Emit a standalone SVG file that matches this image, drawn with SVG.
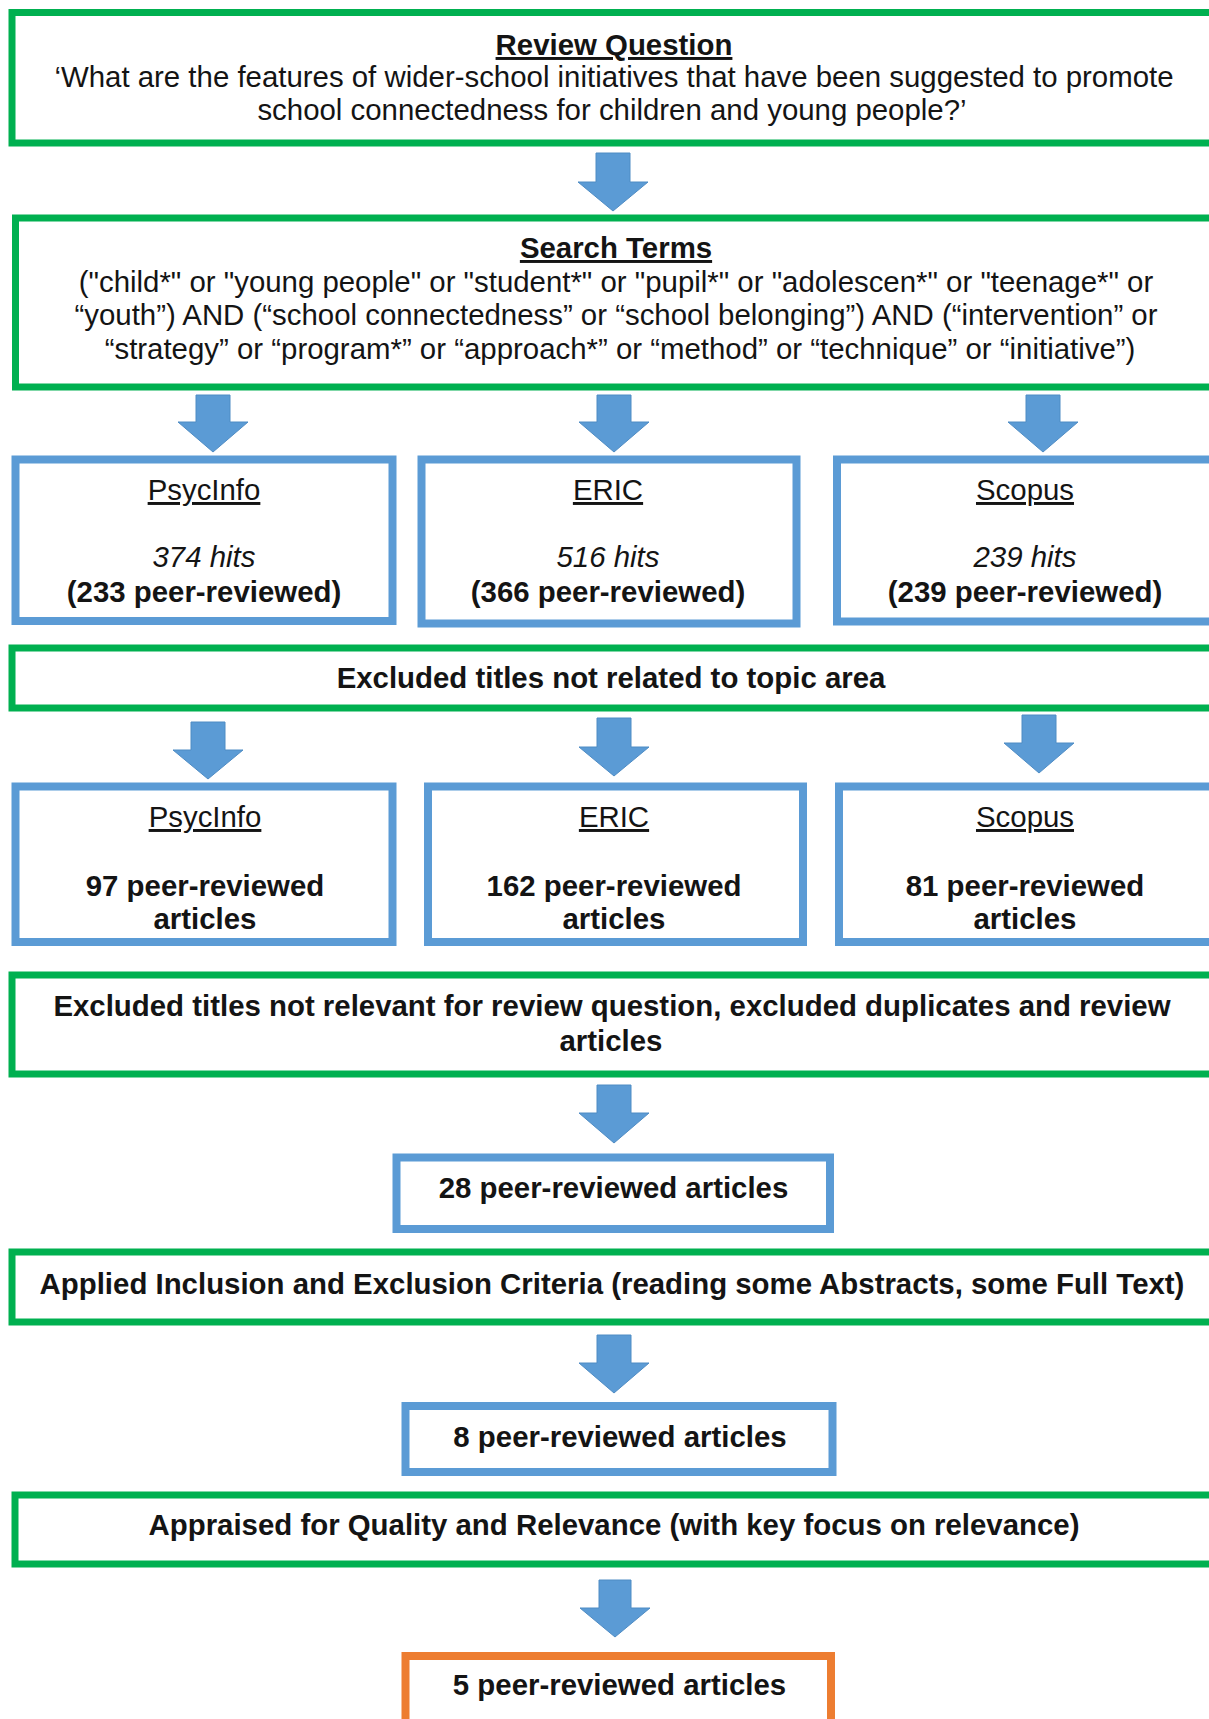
<svg xmlns="http://www.w3.org/2000/svg" width="1209" height="1719" viewBox="0 0 1209 1719">
<defs>
<style>
.g{fill:#fff;stroke:#00B050;stroke-width:7}
.b{fill:#fff;stroke:#5B9BD5;stroke-width:8}
.o{fill:#fff;stroke:#ED7D31;stroke-width:8}
.arr{fill:#5B9BD5;stroke:#4F8CC4;stroke-width:1}
text{font-family:"Liberation Sans",Arial,sans-serif;font-size:29.4px;fill:#141414;text-anchor:middle}
.bd{font-weight:bold}
.u{text-decoration:underline}
.it{font-style:italic}
</style>
</defs>
<rect width="1209" height="1719" fill="#fff"/>
<g id="connectors">
<path class="arr" d="M596,153H630V182H648L613,211L578,182H596Z"/>
<path class="arr" d="M196,395H230V422H248L213,452L178,422H196Z"/>
<path class="arr" d="M597,395H631V422H649L614,452L579,422H597Z"/>
<path class="arr" d="M1026,395H1060V422H1078L1043,452L1008,422H1026Z"/>
<path class="arr" d="M191,722H225V750H243L208,779L173,750H191Z"/>
<path class="arr" d="M597,718H631V747H649L614,776L579,747H597Z"/>
<path class="arr" d="M1022,715H1056V743H1074L1039,773L1004,743H1022Z"/>
<path class="arr" d="M597,1085H631V1113H649L614,1143L579,1113H597Z"/>
<path class="arr" d="M597,1335H631V1363H649L614,1393L579,1363H597Z"/>
<path class="arr" d="M599,1580H631V1608H650L615,1637L580,1608H599Z"/>
</g>
<g id="review-question">
<rect class="g" x="12" y="12.5" width="1210" height="130.5"/>
<text x="614" y="55" class="bd u">Review Question</text>
<text x="614" y="87">‘What are the features of wider-school initiatives that  have been suggested to promote</text>
<text x="612" y="120">school connectedness for children and young people?’</text>
</g>
<g id="search-terms">
<rect class="g" x="15.5" y="218" width="1210" height="169"/>
<text x="616" y="258" class="bd u">Search Terms</text>
<text x="616" y="291.5">("child*" or "young people" or "student*" or "pupil*" or "adolescen*" or "teenage*" or</text>
<text x="616" y="325">“youth”) AND (“school connectedness” or “school belonging”) AND (“intervention” or</text>
<text x="620" y="358.5">“strategy” or “program*” or “approach*” or “method” or “technique” or “initiative”)</text>
</g>
<g id="psycinfo-1">
<rect class="b" x="15.5" y="459.5" width="377" height="161.5"/>
<text x="204" y="500" class="u">PsycInfo</text>
<text x="204" y="567" class="it">374 hits</text>
<text x="204" y="602" class="bd">(233 peer-reviewed)</text>
</g>
<g id="eric-1">
<rect class="b" x="421.5" y="459.5" width="375" height="164"/>
<text x="608" y="500" class="u">ERIC</text>
<text x="608" y="567" class="it">516 hits</text>
<text x="608" y="602" class="bd">(366 peer-reviewed)</text>
</g>
<g id="scopus-1">
<rect class="b" x="837" y="459.5" width="380" height="162"/>
<text x="1025" y="500" class="u">Scopus</text>
<text x="1025" y="567" class="it">239 hits</text>
<text x="1025" y="602" class="bd">(239 peer-reviewed)</text>
</g>
<g id="excluded-topic">
<rect class="g" x="12" y="648" width="1210" height="60"/>
<text x="611" y="688" class="bd">Excluded titles not related to topic area</text>
</g>
<g id="psycinfo-2">
<rect class="b" x="15.5" y="786.5" width="377" height="155.5"/>
<text x="205" y="827" class="u">PsycInfo</text>
<text x="205" y="896" class="bd">97 peer-reviewed</text>
<text x="205" y="929" class="bd">articles</text>
</g>
<g id="eric-2">
<rect class="b" x="428" y="786.5" width="375" height="155.5"/>
<text x="614" y="827" class="u">ERIC</text>
<text x="614" y="896" class="bd">162 peer-reviewed</text>
<text x="614" y="929" class="bd">articles</text>
</g>
<g id="scopus-2">
<rect class="b" x="839" y="786.5" width="380" height="155.5"/>
<text x="1025" y="827" class="u">Scopus</text>
<text x="1025" y="896" class="bd">81 peer-reviewed</text>
<text x="1025" y="929" class="bd">articles</text>
</g>
<g id="excluded-relevance">
<rect class="g" x="12" y="975" width="1210" height="99"/>
<text x="612" y="1016" class="bd">Excluded titles not relevant for review question, excluded duplicates and review</text>
<text x="611" y="1051" class="bd">articles</text>
</g>
<g id="articles-28">
<rect class="b" x="396.5" y="1157.5" width="433.5" height="71.5"/>
<text x="613.5" y="1198" class="bd">28 peer-reviewed articles</text>
</g>
<g id="inclusion-criteria">
<rect class="g" x="12" y="1252" width="1210" height="70"/>
<text x="612" y="1293.5" class="bd">Applied Inclusion and Exclusion Criteria (reading some Abstracts, some Full Text)</text>
</g>
<g id="articles-8">
<rect class="b" x="405.5" y="1406" width="427" height="66"/>
<text x="620" y="1447" class="bd">8 peer-reviewed articles</text>
</g>
<g id="appraisal">
<rect class="g" x="15" y="1495" width="1210" height="69"/>
<text x="614" y="1535" class="bd">Appraised for Quality and Relevance (with key focus on relevance)</text>
</g>
<g id="articles-5">
<rect class="o" x="405.5" y="1656" width="425.5" height="80"/>
<text x="619.5" y="1695" class="bd">5 peer-reviewed articles</text>
</g>
</svg>
